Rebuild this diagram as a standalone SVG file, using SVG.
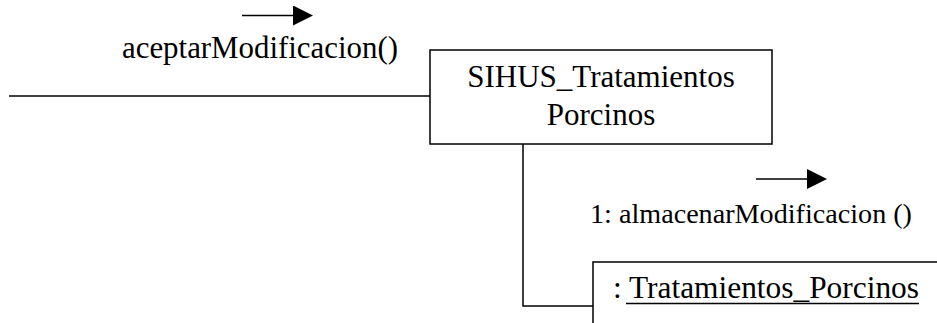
<svg xmlns="http://www.w3.org/2000/svg" width="937" height="323" viewBox="0 0 937 323">
<style>
.ln{stroke:#000;stroke-width:1.5;fill:none}
.box{stroke:#000;stroke-width:1.5;fill:#fff}
.t{font-family:"Liberation Serif","Times New Roman",serif;fill:#000}
</style>
<defs>
<marker id="ah" viewBox="0 0 20 20" refX="0" refY="10" markerWidth="20" markerHeight="20" markerUnits="userSpaceOnUse" orient="auto">
<path d="M0,0 L20,10 L0,20 Z" fill="#000"/>
</marker>
</defs>
<g id="connectors">
<line class="ln" x1="9" y1="96" x2="430" y2="96"/>
<polyline class="ln" points="523,144 523,306 593,306"/>
<line class="ln" x1="242" y1="15.5" x2="293" y2="15.5" marker-end="url(#ah)"/>
<text class="t" x="122" y="58" font-size="31" textLength="276" lengthAdjust="spacingAndGlyphs">aceptarModificacion()</text>
<line class="ln" x1="756" y1="179" x2="807" y2="179" marker-end="url(#ah)"/>
<text class="t" x="590" y="223" font-size="28" textLength="322" lengthAdjust="spacingAndGlyphs">1: almacenarModificacion ()</text>
</g>
<g id="sihus">
<rect class="box" x="430" y="50" width="342" height="94"/>
<text class="t" x="601" y="87" font-size="31" text-anchor="middle">SIHUS_Tratamientos</text>
<text class="t" x="601" y="125" font-size="31" text-anchor="middle">Porcinos</text>
</g>
<g id="tratamientos">
<rect class="box" x="593" y="262" width="360" height="80"/>
<text class="t" x="613" y="298" font-size="31" textLength="306" lengthAdjust="spacingAndGlyphs">: Tratamientos_Porcinos</text>
<line x1="626" y1="303.5" x2="919" y2="303.5" stroke="#000" stroke-width="1.5"/>
</g>
</svg>
